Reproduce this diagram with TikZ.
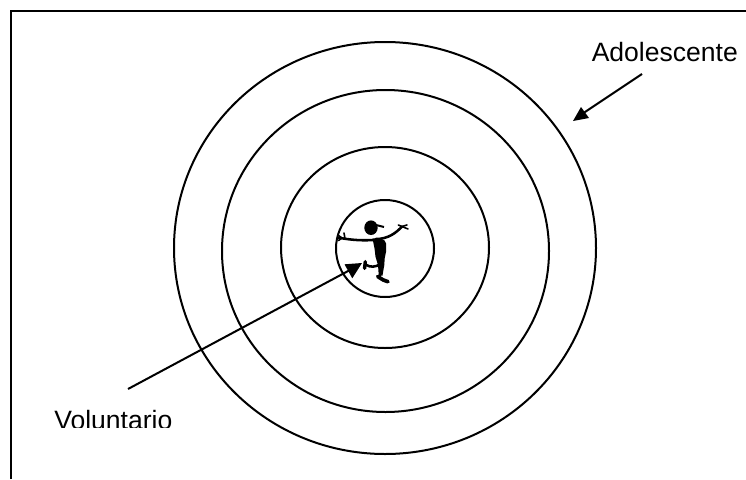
\documentclass[tikz,border=0pt]{standalone}
\usepackage{fontspec}
\setmainfont{Liberation Sans}
\begin{document}
\begin{tikzpicture}[x=0.75pt,y=-0.75pt,
  ring/.style={draw=black,line width=1.5pt},
  label/.style={inner sep=0pt,anchor=base west,font=\fontsize{19.9pt}{24pt}\selectfont},
  pointer/.style={draw=black,line width=1.5pt},
  tiphead/.style={fill=black},
  limb/.style={draw=black,line width=1.9pt,line cap=round,line join=round},
  finger/.style={draw=black,line width=1.2pt,line cap=round,line join=round}]
\useasboundingbox (0,0) rectangle (746,479);
\draw[line width=1.7pt] (11,479) -- (11,11) -- (746,11);
% rings
\draw[ring] (385,248) ellipse [x radius=211,y radius=206];
\draw[ring] (385.5,251) ellipse [x radius=163.5,y radius=161];
\draw[ring] (385,247.5) ellipse [x radius=104,y radius=100.5];
\draw[ring] (385,248.5) ellipse [x radius=49,y radius=48.5];
% labels
\node[label] (ado) at (591.5,61) {Adolescente};
\begin{scope}
\clip (40,400) rectangle (200,427);
\node[label] (vol) at (54,429) {Voluntario};
\end{scope}
% pointers
\coordinate (adoStart) at (642,74);
\coordinate (adoTip) at (573,121);
\coordinate (volStart) at (128,389);
\coordinate (volTip) at (362,263);
\draw[pointer] (adoStart) -- (582,114);
\fill[tiphead] (adoTip) -- (581,107) -- (589,118) -- cycle;
\draw[pointer] (volStart) -- (350,270);
\fill[tiphead] (volTip) -- (344.5,264.3) -- (352.3,278.3) -- cycle;
% figure
\fill (371,227.7) ellipse [x radius=6.7,y radius=7.3];
\draw[line width=1.5pt] (376,225) -- (384,227);
\draw[limb] (338.5,237.7) .. controls (346,239) and (358,241) .. (373,240);
\draw[finger] (344,233) -- (345,238.5);
\draw[finger] (338.5,235.5) -- (342,238) -- (338.5,240.5);
\draw[limb] (376,239) .. controls (388,239) and (396,233) .. (402,226.5);
\draw[finger] (398.3,225) -- (402,226.5) -- (407,225);
\draw[finger] (402,226.5) -- (408,229);
\fill (372.5,238.5) .. controls (378,237) and (386,239) .. (386,243.5)
  -- (386,252) -- (384.7,258.3) -- (384.3,265) -- (382.5,275.5) -- (378.8,276)
  -- (378,265) -- (375.5,256.7) -- (374.5,248.3) -- cycle;
\draw[limb] (380,264.3) .. controls (376,267) and (370,267.5) .. (366.5,265);
\draw[line width=2.6pt,line cap=round] (365.3,261.7) -- (364.6,268.3);
\draw[limb] (380,275.5) -- (377.7,276.5);
\draw[line width=2.8pt,line cap=round,line join=round] (377.7,276.5) -- (383.3,280) -- (388,281.7);
\end{tikzpicture}
\end{document}
